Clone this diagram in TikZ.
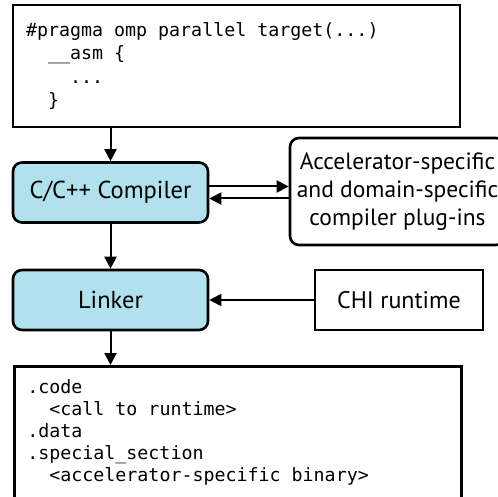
\documentclass[tikz,border=0pt]{standalone}
\usepackage{fontspec}
\setmainfont{PT Sans}
\setmonofont{DejaVu Sans Mono}
\usetikzlibrary{arrows.meta,calc,positioning}
\definecolor{StageBlue}{HTML}{B2E1EE}
\definecolor{Ink}{HTML}{000000}
% one monospace cell of blank space
\newcommand{\tsp}{\hphantom{0}}

\begin{document}
\begin{tikzpicture}[x=1pt,y=-1pt,
  stage/.style={draw=Ink,fill=StageBlue,rounded corners=9pt,line width=2.6pt,minimum width=195pt,minimum height=60pt,inner sep=0pt,font=\fontsize{24.5}{28}\selectfont},
  extbox/.style={draw=Ink,fill=white,line width=2.6pt,inner sep=0pt,align=center,font=\fontsize{23.5}{28}\selectfont},
  codebox/.style={draw=Ink,fill=white,line width=2.6pt,minimum width=447pt,text width=421pt,inner xsep=13pt,inner ysep=0pt,align=left},
  flow/.style={draw=Ink,line width=2pt,-{Triangle[length=12pt,width=12pt]}}
]
\useasboundingbox (0,0) rectangle (498,497);
\node[codebox,minimum height=122pt,font=\ttfamily\fontsize{18.3}{23.5}\selectfont] (src) at (236.5,66)
  {\#pragma\tsp omp\tsp parallel\tsp target(...)\\\tsp\tsp\_\_asm\tsp\{\\\tsp\tsp\tsp\tsp...\\\tsp\tsp\}};
\node[stage] (comp) at (110.5,192.5) {C/C++ Compiler};
\node[extbox,rounded corners=9pt,minimum width=215pt,minimum height=107pt] (plug) at (397.5,191.5)
  {Accelerator-specific\\and domain-specific\\compiler plug-ins};
\node[stage] (link) at (110.5,300) {Linker};
\node[extbox,font=\fontsize{24}{28}\selectfont,minimum width=168pt,minimum height=60pt] (chi) at (399,300) {CHI runtime};
\node[codebox,anchor=north west,minimum height=150pt,font=\ttfamily\fontsize{18.3}{22}\selectfont] (bin) at (13,365)
  {.code\\\tsp\tsp<call\tsp to\tsp runtime>\\.data\\.special\_section\\\tsp\tsp<accelerator-specific\tsp binary>\\\mbox{}};
\draw[flow] (src.south -| comp.north) -- (comp.north);
\draw[flow] ([yshift=6pt]comp.east) -- ([yshift=6pt]comp.east -| plug.west);
\draw[flow] ([yshift=-6pt]comp.east -| plug.west) -- ([yshift=-6pt]comp.east);
\draw[flow] (comp.south) -- (link.north);
\draw[flow] (chi.west) -- (link.east);
\draw[flow] (link.south) -- (link.south |- bin.north);
\end{tikzpicture}
\end{document}
